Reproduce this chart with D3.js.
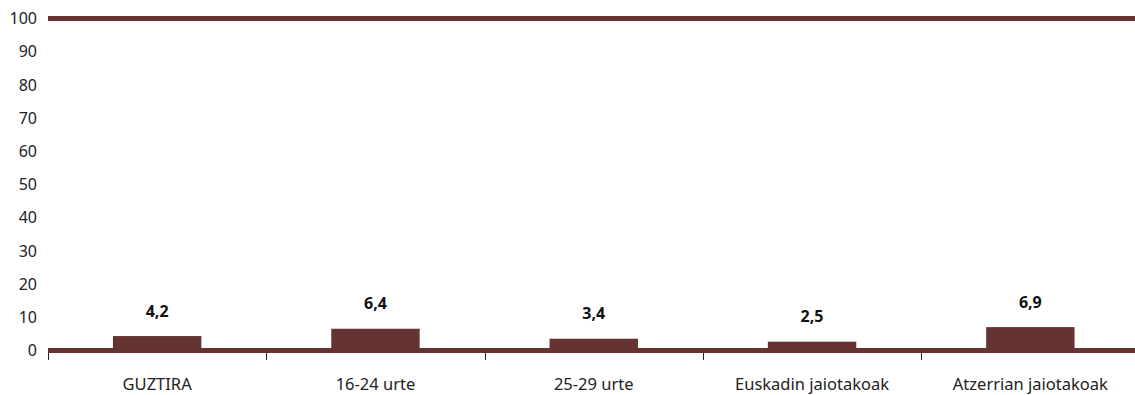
<!DOCTYPE html>
<html>
<head>
<meta charset="utf-8">
<script src="https://cdn.jsdelivr.net/npm/d3@7"></script>
<style>
html,body{margin:0;padding:0;background:#fff;}
svg{display:block;}
</style>
</head>
<body>
<svg id="chart" width="1135" height="395"></svg>
<script>
const categories = ["GUZTIRA", "16-24 urte", "25-29 urte", "Euskadin jaiotakoak", "Atzerrian jaiotakoak"];
const values = [4.2, 6.4, 3.4, 2.5, 6.9];
const valueLabels = ["4,2", "6,4", "3,4", "2,5", "6,9"];
const yTicks = [0, 10, 20, 30, 40, 50, 60, 70, 80, 90, 100];

const color = "#663333";
const font = "'Noto Sans', 'Open Sans', sans-serif";
const svg = d3.select("#chart");

const x = d3.scaleBand().domain(categories).range([48, 1139.5]).paddingInner(0).paddingOuter(0);
const y = d3.scaleLinear().domain([0, 100]).range([350.5, 18.5]);

// y tick labels
svg.append("g").selectAll("text").data(yTicks).join("text")
  .attr("x", 37).attr("y", d => y(d)).attr("dy", "0.35em")
  .attr("text-anchor", "end")
  .attr("font-family", font).attr("font-size", 16).attr("fill", "#222")
  .text(d => d);

// bars
const bw = x.bandwidth() * 0.405;
svg.append("g").selectAll("rect").data(values).join("rect")
  .attr("x", (d, i) => x(categories[i]) + (x.bandwidth() - bw) / 2)
  .attr("width", bw)
  .attr("y", d => y(d) - 0.5)
  .attr("height", d => y(0) - y(d) + 0.5)
  .attr("fill", color);

// thick lines at 0 and 100
svg.append("g").selectAll("line").data([0, 100]).join("line")
  .attr("x1", 48).attr("x2", 1135)
  .attr("y1", d => y(d)).attr("y2", d => y(d))
  .attr("stroke", color).attr("stroke-width", 5);

// category ticks
const tickXs = categories.map(c => x(c));
svg.append("g").selectAll("line").data(tickXs).join("line")
  .attr("x1", d => Math.round(d) + 0.5).attr("x2", d => Math.round(d) + 0.5)
  .attr("y1", 353).attr("y2", 360)
  .attr("stroke", "#222").attr("stroke-width", 1);

// category labels
svg.append("g").selectAll("text").data(categories).join("text")
  .attr("x", d => x(d) + x.bandwidth() / 2).attr("y", 390)
  .attr("text-anchor", "middle")
  .attr("font-family", font).attr("font-size", 16.5).attr("fill", "#222")
  .text(d => d);

// value labels
svg.append("g").selectAll("text").data(values).join("text")
  .attr("x", (d, i) => x(categories[i]) + x.bandwidth() / 2)
  .attr("y", d => y(d) - 20)
  .attr("text-anchor", "middle")
  .attr("font-family", font).attr("font-size", 16).attr("font-weight", "bold").attr("fill", "#111")
  .text((d, i) => valueLabels[i]);
</script>
</body>
</html>
